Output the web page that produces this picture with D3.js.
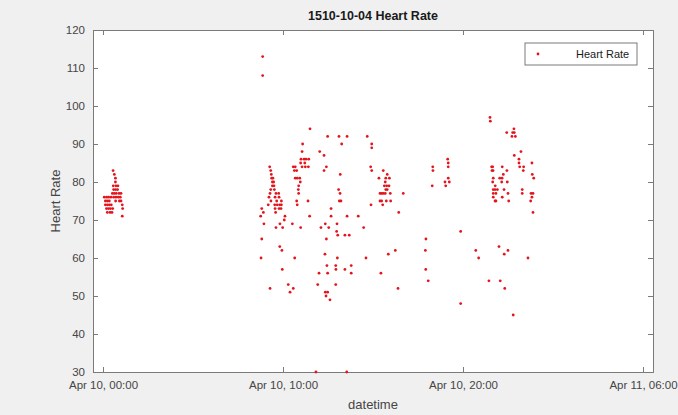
<!DOCTYPE html>
<html>
<head>
<meta charset="utf-8">
<script src="https://cdn.jsdelivr.net/npm/d3@7"></script>
<style>
  body { margin: 0; background: #f0f0f0; }
  svg { display: block; font-family: "Liberation Sans", Arial, sans-serif; }
</style>
</head>
<body>
<div id="chart"></div>
<script>
// hours after Apr 10, 00:00 for every reading
const hoursSinceStart = [
  0.56,0.63,0.69,0.69,0.57,0.72,0.83,0.59,0.70,0.81,0.52,0.63,0.74,0.89,1.00,
  0.07,0.20,0.31,0.44,0.59,0.72,0.85,0.96, 0.13,0.24,0.35,0.70,0.91,1.00,
  0.13,0.24,0.35,0.46,1.07, 0.19,0.30,0.41,0.54,1.09, 0.24,0.39,0.50, 1.07,

  8.87,8.87,8.82,8.91,8.76,8.94,8.82,8.78,
  9.26,9.32,9.35,9.37,9.44,9.41,9.48,9.41,9.50,9.32,9.52,9.28,9.61,9.76,9.22,9.56,9.78,9.33,9.65,9.91,9.18,9.54,9.68,9.82,9.91,9.56,9.78,9.89,9.59,
  10.11,10.07,9.83,9.61,9.98,9.82,9.94,9.96,9.28,10.29,10.57,10.39,

  10.57,10.68,10.63,10.76,10.68,10.79,10.93,10.96,10.87,10.85,10.87,10.76,10.79,
  11.00,11.17,11.28,11.43,10.98,11.21,11.06,11.24,11.41,11.06,11.09,11.50,
  10.52,10.65,10.98,11.39,11.48,

  12.04,12.28,12.41,12.28,12.48,13.11,13.56,13.26,13.18,13.09,13.17,13.13,13.22,12.67,12.67,13.56,14.18,
  12.11,12.54,12.35,13.00,12.98,13.04,13.44,13.68,12.41,12.33,13.02,12.44,12.93,13.79,12.94,13.44,12.00,12.48,13.79,11.93,12.93,12.35,12.48,12.39,12.61,11.83,13.54,

  14.68,14.93,14.93,14.87,14.93,15.57,15.79,15.33,15.71,15.91,15.68,15.63,15.76,15.89,15.71,15.79,15.39,15.48,15.57,15.68,15.96,16.68,15.39,15.48,15.74,15.98,14.89,15.54,16.43,14.48,16.24,15.85,14.61,15.44,16.39,

  18.32,18.33,18.29,19.15,19.18,19.18,19.18,19.00,19.24,19.04,17.94,17.91,17.93,18.07,19.87,19.87,

  21.50,21.52,22.83,22.43,22.76,22.85,22.72,22.91,23.22,22.85,23.11,23.11,23.83,23.15,23.37,22.44,23.35,23.85,23.93,
  21.59,21.65,21.61,21.67,22.18,22.24,21.68,22.04,22.17,21.65,22.15,22.46,21.79,
  21.68,21.78,21.91,22.28,23.29,21.68,21.83,22.50,23.29,23.78,23.89,21.68,22.18,23.83,21.78,21.83,22.54,23.76,23.89,
  20.71,20.87,22.00,22.50,22.29,23.61,21.44,22.07,22.32,22.79
]

const heartRate = [
  83,82,81,80,79,79,79,78,78,78,77,77,77,77,77,
  76,76,76,76,76,76,76,76, 75,75,75,75,75,75,
  74,74,74,74,74, 73,73,73,73,73, 72,72,72, 71,

  113,108,73,72,71,69,65,60,
  84,83,82,81,81,80,80,79,79,78,78,77,77,77,76,76,76,75,75,75,74,74,74,74,74,73,73,73,72,
  71,70,69,68,68,63,62,57,52,53,52,51,

  84,84,83,83,81,81,81,80,79,78,77,75,74,
  86,86,86,86,85,85,84,84,84,88,90,94,
  69,60,68,75,71,

  88,87,84,83,92,92,92,90,82,78,77,75,75,73,71,71,71,
  68,68,69,69,67,66,66,66,65,61,60,58,58,58,57,57,56,56,56,53,53,51,51,50,49,30,30,

  92,90,89,84,83,83,82,81,81,81,80,79,79,79,78,78,77,77,77,77,77,77,75,75,75,75,74,74,72,68,62,61,60,56,52,

  84,83,79,86,85,84,81,80,80,79,65,62,57,54,67,48,

  97,96,94,93,93,93,92,92,88,87,86,85,85,84,84,83,83,82,81,
  84,84,83,83,84,82,81,81,81,80,80,80,79,
  78,78,78,78,78,77,77,77,77,77,77,76,76,76,75,75,75,75,72,
  62,60,63,62,61,60,54,54,52,45
]

// x ticks (hours after start) and their labels, y ticks
const xTickHours = [0, 10, 20, 30]
const xTickLabels = ["Apr 10, 00:00", "Apr 10, 10:00", "Apr 10, 20:00", "Apr 11, 06:00"]
const yTicks = [30, 40, 50, 60, 70, 80, 90, 100, 110, 120]

const start = new Date(2015, 3, 10, 0, 0)
const toDate = h => new Date(start.getTime() + h * 3600 * 1000)

const data = hoursSinceStart.map((h, i) => ({ time: toDate(h), hr: heartRate[i] }))

const width = 678,
    height = 415
const plot = { left: 93, right: 653, top: 30, bottom: 372 }
const axisColor = "#7a7a7a",
    textColor = "#454545"

const svg = d3.select("#chart")
  .append("svg")
    .attr("width", width)
    .attr("height", height)

const x = d3.scaleTime()
  .domain([toDate(-0.556), toDate(30.556)])
  .range([plot.left, plot.right])

const y = d3.scaleLinear()
  .domain([30, 120])
  .range([plot.bottom, plot.top])

// white plotting area
svg.append("rect")
  .attr("x", plot.left)
  .attr("y", plot.top)
  .attr("width", plot.right - plot.left)
  .attr("height", plot.bottom - plot.top)
  .attr("fill", "white")

// axes, ticks pointing inside like matlab with the box on
const tickDates = xTickHours.map(toDate)
const xBottom = d3.axisBottom(x).tickValues(tickDates).tickSize(-5).tickPadding(9)
  .tickFormat((d, i) => xTickLabels[i])
const xTop = d3.axisTop(x).tickValues(tickDates).tickSize(-5).tickFormat("")
const yLeft = d3.axisLeft(y).tickValues(yTicks).tickSize(-5).tickPadding(8)
const yRight = d3.axisRight(y).tickValues(yTicks).tickSize(-5).tickFormat("")

function styleAxis(g) {
  g.select(".domain").attr("stroke", axisColor)
  g.selectAll(".tick line").attr("stroke", axisColor)
  g.selectAll(".tick text").attr("fill", textColor).style("font-size", "11.5px")
}

svg.append("g").attr("transform", `translate(0,${plot.bottom})`).call(xBottom).call(styleAxis)
svg.append("g").attr("transform", `translate(0,${plot.top})`).call(xTop).call(styleAxis)
svg.append("g").attr("transform", `translate(${plot.left},0)`).call(yLeft).call(styleAxis)
svg.append("g").attr("transform", `translate(${plot.right},0)`).call(yRight).call(styleAxis)

// the points
svg.append("g")
  .selectAll("circle")
  .data(data)
  .join("circle")
    .attr("cx", d => x(d.time))
    .attr("cy", d => y(d.hr))
    .attr("r", 1.4)
    .attr("fill", "#e3141c")

// title and axis labels
svg.append("text")
  .attr("x", (plot.left + plot.right) / 2)
  .attr("y", 20)
  .attr("text-anchor", "middle")
  .style("font-size", "12.5px")
  .style("font-weight", "bold")
  .attr("fill", "#1a1a1a")
  .text("1510-10-04 Heart Rate")

svg.append("text")
  .attr("x", (plot.left + plot.right) / 2)
  .attr("y", 409)
  .attr("text-anchor", "middle")
  .style("font-size", "13px")
  .attr("fill", textColor)
  .text("datetime")

svg.append("text")
  .attr("transform", `translate(60,${(plot.top + plot.bottom) / 2}) rotate(-90)`)
  .attr("text-anchor", "middle")
  .style("font-size", "13px")
  .attr("fill", textColor)
  .text("Heart Rate")

// legend
const legend = svg.append("g").attr("transform", "translate(525,43)")
legend.append("rect")
  .attr("width", 112)
  .attr("height", 22)
  .attr("fill", "white")
  .attr("stroke", axisColor)
legend.append("circle")
  .attr("cx", 13)
  .attr("cy", 11)
  .attr("r", 1.4)
  .attr("fill", "#e3141c")
legend.append("text")
  .attr("x", 51)
  .attr("y", 15)
  .style("font-size", "11px")
  .attr("fill", "#1a1a1a")
  .text("Heart Rate")
</script>
</body>
</html>
